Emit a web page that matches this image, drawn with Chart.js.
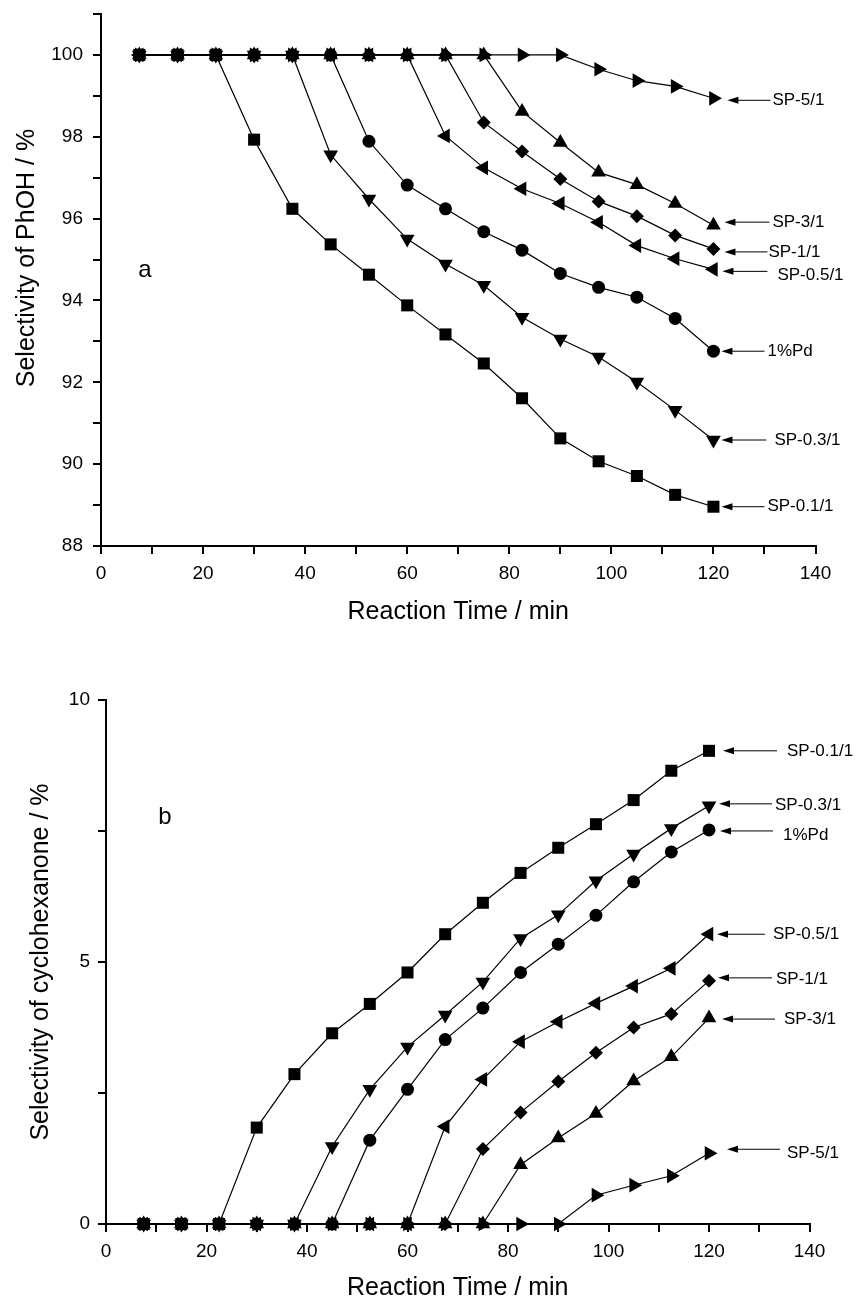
<!DOCTYPE html>
<html>
<head>
<meta charset="utf-8">
<script src="https://cdn.jsdelivr.net/npm/chart.js@4.4.0/dist/chart.umd.min.js"></script>
<style>
  body { margin: 0; background: #fff; }
  .box { position: absolute; left: 0; width: 857px; }
  #boxA { top: 0; height: 650px; }
  #boxB { top: 650px; height: 648px; }
</style>
</head>
<body>
<div class="box" id="boxA"><canvas id="chartA"></canvas></div>
<div class="box" id="boxB"><canvas id="chartB"></canvas></div>
<script>
// reaction time, min
const times = [7.5, 15, 22.5, 30, 37.5, 45, 52.5, 60, 67.5, 75, 82.5, 90, 97.5, 105, 112.5, 120];
const names = ['SP-0.1/1', 'SP-0.3/1', '1%Pd', 'SP-0.5/1', 'SP-1/1', 'SP-3/1', 'SP-5/1'];

// selectivity of PhOH, %
const phohSp01 = [100, 100, 100, 97.93, 96.24, 95.37, 94.63, 93.88, 93.17, 92.46, 91.61, 90.63, 90.07, 89.71, 89.25, 88.96];
const phohSp03 = [100, 100, 100, 100, 100, 97.56, 96.48, 95.50, 94.89, 94.37, 93.59, 93.06, 92.62, 92.01, 91.32, 90.59];
const phohPd = [100, 100, 100, 100, 100, 100, 97.89, 96.82, 96.24, 95.68, 95.23, 94.66, 94.32, 94.08, 93.56, 92.76];
const phohSp05 = [100, 100, 100, 100, 100, 100, 100, 100, 98.02, 97.24, 96.73, 96.37, 95.91, 95.34, 95.02, 94.76];
const phohSp1 = [100, 100, 100, 100, 100, 100, 100, 100, 100, 98.35, 97.64, 96.97, 96.42, 96.06, 95.59, 95.26];
const phohSp3 = [100, 100, 100, 100, 100, 100, 100, 100, 100, 100, 98.62, 97.86, 97.13, 96.83, 96.37, 95.84];
const phohSp5 = [100, 100, 100, 100, 100, 100, 100, 100, 100, 100, 100, 100, 99.65, 99.37, 99.23, 98.94];

// selectivity of cyclohexanone, %
const oneSp01 = [0, 0, 0, 1.84, 2.86, 3.64, 4.20, 4.80, 5.53, 6.13, 6.70, 7.18, 7.63, 8.09, 8.65, 9.03];
const oneSp03 = [0, 0, 0, 0, 0, 1.48, 2.57, 3.38, 3.99, 4.62, 5.45, 5.90, 6.55, 7.06, 7.55, 7.98];
const onePd = [0, 0, 0, 0, 0, 0, 1.60, 2.57, 3.52, 4.12, 4.80, 5.34, 5.89, 6.53, 7.10, 7.52];
const oneSp05 = [0, 0, 0, 0, 0, 0, 0, 0, 1.86, 2.76, 3.48, 3.86, 4.21, 4.54, 4.88, 5.53];
const oneSp1 = [0, 0, 0, 0, 0, 0, 0, 0, 0, 1.43, 2.13, 2.72, 3.27, 3.75, 4.01, 4.64];
const oneSp3 = [0, 0, 0, 0, 0, 0, 0, 0, 0, 0, 1.13, 1.64, 2.11, 2.73, 3.19, 3.93];
const oneSp5 = [0, 0, 0, 0, 0, 0, 0, 0, 0, 0, 0, 0, 0.55, 0.74, 0.92, 1.35];

const family = '"Liberation Sans", Arial, sans-serif';

// marker per catalyst, same order as names
const markers = [
  { style: 'rect', radius: 8.5, rotation: 0 },
  { style: 'triangle', radius: 8.5, rotation: 180 },
  { style: 'circle', radius: 6.5, rotation: 0 },
  { style: 'triangle', radius: 8.5, rotation: -90 },
  { style: 'rectRot', radius: 7, rotation: 0 },
  { style: 'triangle', radius: 8.5, rotation: 0 },
  { style: 'triangle', radius: 8.5, rotation: 90 }
];

// titles, panel letter and the arrows pointing at each curve end
let extras = (o) => ({
  id: 'extras',
  afterDraw(chart) {
    const { ctx, scales: { x, y } } = chart;
    ctx.save();
    ctx.fillStyle = '#000';
    ctx.strokeStyle = '#000';
    ctx.textBaseline = 'middle';
    ctx.textAlign = 'center';

    ctx.font = '25px ' + family;
    ctx.fillText(o.xTitle, (x.left + x.right) / 2, o.xTitleY);
    ctx.save();
    ctx.translate(o.yTitleX, o.yTitleY);
    ctx.rotate(-Math.PI / 2);
    ctx.fillText(o.yTitle, 0, 0);
    ctx.restore();

    ctx.font = '24px ' + family;
    ctx.fillText(o.letter, o.letterX, o.letterY);

    ctx.font = '17px ' + family;
    ctx.textAlign = 'left';
    ctx.lineWidth = 1;
    chart.data.datasets.forEach((ds, i) => {
      const last = ds.data[ds.data.length - 1];
      const px = x.getPixelForValue(last.x);
      const py = y.getPixelForValue(last.y);
      const [head, tail, text, ady, tdy] = o.arrows[i];
      const ay = py + ady;
      ctx.beginPath();
      ctx.moveTo(px + head + 8, ay);
      ctx.lineTo(px + tail, ay);
      ctx.stroke();
      ctx.beginPath();
      ctx.moveTo(px + head, ay);
      ctx.lineTo(px + head + 11, ay - 3.5);
      ctx.lineTo(px + head + 11, ay + 3.5);
      ctx.closePath();
      ctx.fill();
      ctx.fillText(ds.label, px + text, ay + tdy);
    });
    ctx.restore();
  }
});

let buildChart = (id, series, o) => {
  const datasets = series.map((values, i) => ({
    label: names[i],
    data: values.map((v, k) => ({ x: times[k], y: v })),
    borderColor: '#000',
    backgroundColor: '#000',
    borderWidth: 1.2,
    pointStyle: markers[i].style,
    pointRadius: markers[i].radius,
    pointHoverRadius: markers[i].radius,
    pointRotation: markers[i].rotation,
    pointBorderWidth: 0,
    tension: 0,
    clip: false
  }));

  const axisGrid = {
    display: true,
    drawOnChartArea: false,
    drawTicks: true,
    tickLength: 8,
    lineWidth: 2,
    color: '#000'
  };

  const config = {
    type: 'line',
    data: { datasets: datasets },
    options: {
      responsive: true,
      maintainAspectRatio: false,
      animation: false,
      events: [],
      layout: {
        autoPadding: false,
        padding: { top: o.top, right: o.right, bottom: 0, left: 0 }
      },
      plugins: { legend: { display: false }, tooltip: { enabled: false } },
      scales: {
        x: {
          type: 'linear',
          min: 0,
          max: 140,
          afterFit: (s) => {
            s.height = o.xHeight;
            s.paddingLeft = 0;
            s.paddingRight = 0;
          },
          ticks: {
            stepSize: 10,
            autoSkip: false,
            maxRotation: 0,
            padding: 8,
            color: '#000',
            font: { family: family, size: 19 },
            callback: (v) => (v % 20 === 0 ? v : '')
          },
          grid: axisGrid,
          border: { display: true, color: '#000', width: 2 }
        },
        y: {
          type: 'linear',
          min: o.yMin,
          max: o.yMax,
          afterFit: (s) => {
            s.width = o.left;
            s.paddingTop = 0;
            s.paddingBottom = 0;
          },
          ticks: {
            stepSize: o.yStep,
            autoSkip: false,
            padding: o.yPad,
            color: '#000',
            font: { family: family, size: 19 },
            callback: o.yLabel
          },
          grid: axisGrid,
          border: { display: true, color: '#000', width: 2 }
        }
      }
    },
    plugins: [extras(o)]
  };
  return new Chart(document.getElementById(id), config);
};

buildChart('chartA', [phohSp01, phohSp03, phohPd, phohSp05, phohSp1, phohSp3, phohSp5], {
  top: 14, right: 41.5, left: 101, xHeight: 104,
  yMin: 88, yMax: 101, yStep: 1, yPad: 10,
  yLabel: (v) => (v % 2 === 0 && v <= 100 ? v : ''),
  xTitle: 'Reaction Time / min', xTitleY: 612,
  yTitle: 'Selectivity of PhOH / %', yTitleX: 27, yTitleY: 258,
  letter: 'a', letterX: 145, letterY: 270,
  arrows: [
    [8, 51, 54, 0, 0],
    [8, 53, 61, 0, 0],
    [8, 51, 54, 0, 0],
    [9, 54, 64, 2, 4],
    [11, 54, 55, 3, 0],
    [11, 56, 59, -3, 0],
    [14, 57, 59, 2, 0]
  ]
});

buildChart('chartB', [oneSp01, oneSp03, onePd, oneSp05, oneSp1, oneSp3, oneSp5], {
  top: 50, right: 47.5, left: 106, xHeight: 74,
  yMin: 0, yMax: 10, yStep: 2.5, yPad: 8,
  yLabel: (v) => (v % 5 === 0 ? v : ''),
  xTitle: 'Reaction Time / min', xTitleY: 638,
  yTitle: 'Selectivity of cyclohexanone / %', yTitleX: 41, yTitleY: 312,
  letter: 'b', letterX: 165, letterY: 167,
  arrows: [
    [14, 68, 78, 0, 0],
    [10, 63, 66, -2, 1],
    [11, 64, 74, 1, 4],
    [8, 56, 64, 0, 0],
    [9, 63, 67, -3, 1],
    [13, 66, 75, 1, 0],
    [18, 71, 78, -4, 4]
  ]
});
</script>
</body>
</html>
